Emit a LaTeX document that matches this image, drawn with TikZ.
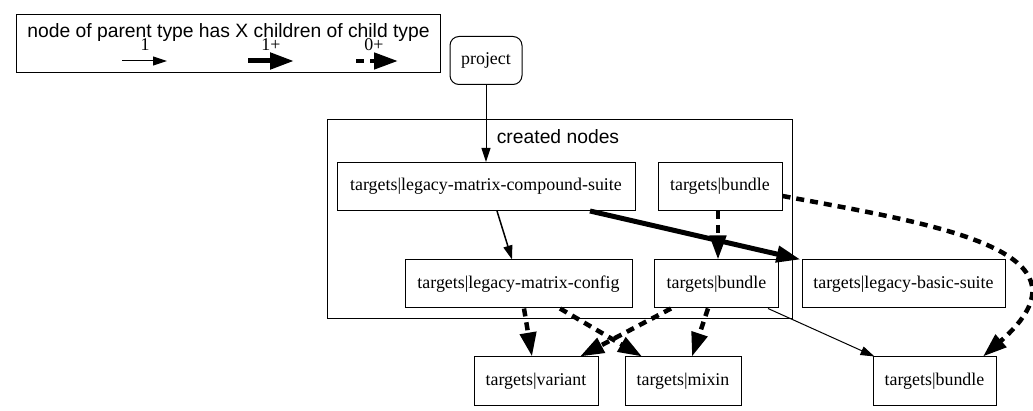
\documentclass[tikz,border=0pt]{standalone}
\usepackage{fontspec}
\setmainfont{Liberation Serif}
\setsansfont{Liberation Sans}
\usetikzlibrary{arrows.meta}

\begin{document}
\begin{tikzpicture}[x=1pt,y=-1pt,
	every node/.style={font=\fontsize{17.9}{20}\selectfont},
	ent/.style={draw, rectangle, line width=1pt, inner xsep=0pt, inner ysep=0pt, minimum height=48pt},
	frame/.style={draw, rectangle, line width=1pt, inner sep=0pt},
	lbl/.style={font=\sffamily\fontsize{19.3}{22}\selectfont},
	one/.style={-{Triangle[length=14pt,width=9pt]}, line width=1pt},
	many/.style={-{Triangle[length=24pt,width=16pt]}, line width=5pt},
	some/.style={-{Triangle[length=24pt,width=16pt]}, line width=4.5pt, dash pattern=on 8pt off 6pt}]
	\useasboundingbox (0,0) rectangle (1033,411);

	% legend
	\node[frame, minimum width=424pt, minimum height=58pt] (key) at (228,44) {};
	\node[lbl] (keytitle) at (228.5,33) {node of parent type has X children of child type};
	\node (k1lbl) at (145,45) {1};
	\node (k2lbl) at (271,45) {1+};
	\node (k3lbl) at (374,45) {0+};
	\coordinate (k1s) at (122,61);
	\coordinate (k1e) at (167,61);
	\coordinate (k2s) at (248,61);
	\coordinate (k2e) at (294,61);
	\coordinate (k3s) at (356,61);
	\coordinate (k3e) at (398,61);
	\draw[one] (k1s) -- (k1e);
	\draw[many] (k2s) -- (k2e);
	\draw[some] (k3s) -- (k3e);

	% cluster
	\node[frame, minimum width=465pt, minimum height=199pt] (created) at (559.5,219.5) {};
	\node[lbl] (createdlbl) at (558,137) {created nodes};

	\node[ent, rounded corners=9pt, minimum width=72pt] (project) at (486,60.5) {project};
	\node[ent, minimum width=298pt] (cs) at (486,186.5) {targets|legacy-matrix-compound-suite};
	\node[ent, minimum width=124pt] (b1) at (720,186.5) {targets|bundle};
	\node[ent, minimum width=227pt] (config) at (518.5,284) {targets|legacy-matrix-config};
	\node[ent, minimum width=124pt] (b2) at (716.5,284) {targets|bundle};
	\node[ent, minimum width=203pt] (basic) at (903.5,284) {targets|legacy-basic-suite};
	\node[ent, minimum width=124pt] (variant) at (536,381) {targets|variant};
	\node[ent, minimum width=116pt] (mixin) at (683,381) {targets|mixin};
	\node[ent, minimum width=123pt] (b3) at (934.5,381) {targets|bundle};

	\draw[one] (project.south) -- (project.south |- cs.north);
	\draw[one, line width=1.5pt] ([xshift=11pt]cs.south) -- ([xshift=-6.5pt]config.north);
	\draw[many] ([xshift=104pt]cs.south) -- ([xshift=-1pt]basic.north west);
	\draw[some] ([xshift=-2pt]b1.south) -- ([xshift=-2pt]b1.south |- b2.north);
	\draw[some] ([yshift=-9.5pt]b1.east) .. controls (933,224) and (1105,250) .. ([xshift=48.5pt]b3.north);
	\draw[some] ([xshift=5.5pt]config.south) -- ([xshift=-4pt]variant.north);
	\draw[some] ([xshift=41.5pt]config.south) -- ([xshift=-41pt]mixin.north);
	\draw[some] ([xshift=-45.5pt]b2.south) -- ([xshift=44pt]variant.north);
	\draw[some] ([xshift=-8.5pt]b2.south) -- ([xshift=9pt]mixin.north);
	\draw[one] ([xshift=-11pt]b2.south east) -- ([xshift=2pt]b3.north west);
\end{tikzpicture}
\end{document}
